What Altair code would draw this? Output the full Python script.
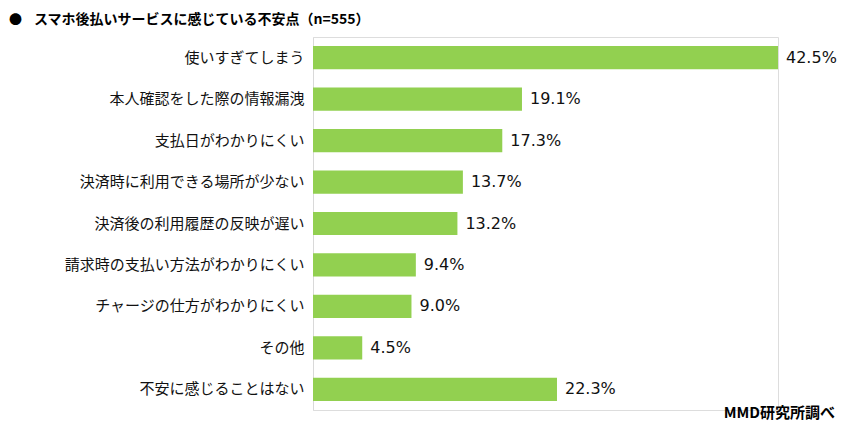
import altair as alt
import pandas as pd

categories = [
    "使いすぎてしまう",
    "本人確認をした際の情報漏洩",
    "支払日がわかりにくい",
    "決済時に利用できる場所が少ない",
    "決済後の利用履歴の反映が遅い",
    "請求時の支払い方法がわかりにくい",
    "チャージの仕方がわかりにくい",
    "その他",
    "不安に感じることはない",
]
values = [42.5, 19.1, 17.3, 13.7, 13.2, 9.4, 9.0, 4.5, 22.3]
title_text = "スマホ後払いサービスに感じている不安点（n=555）"
source_text = "MMD研究所調べ"

df = pd.DataFrame({"cat": categories, "val": values})
df["label"] = [f"{v:.1f}%" for v in values]

FONT = "Noto Sans CJK JP"
W, H = 465, 373

y = alt.Y("cat:N", sort=categories,
          scale=alt.Scale(paddingInner=0.44, paddingOuter=0.22),
          axis=alt.Axis(title=None, labelFont=FONT, labelFontSize=15, labelColor="#111111",
                        labelPadding=9, ticks=False, domainColor="#d9d9d9", grid=False,
                        labelLimit=300))
x = alt.X("val:Q", scale=alt.Scale(domain=[0, 42.5], nice=False),
          axis=None)

bars = alt.Chart(df).mark_bar(color="#92d050").encode(x=x, y=y)
labels = alt.Chart(df).mark_text(align="left", baseline="middle", dx=8, font="DejaVu Sans",
                                 fontSize=16, color="#111111").encode(x=x, y=y, text="label:N")

bullet = alt.Chart(pd.DataFrame({"t": ["●"]})).mark_text(
    align="left", baseline="middle", font=FONT, fontSize=13, color="#000"
).encode(x=alt.value(-304), y=alt.value(-17), text="t:N")
title = alt.Chart(pd.DataFrame({"t": [title_text]})).mark_text(
    align="left", baseline="middle", font=FONT, fontSize=14, fontWeight="bold", color="#000"
).encode(x=alt.value(-279), y=alt.value(-17), text="t:N")
source = alt.Chart(pd.DataFrame({"t": [source_text]})).mark_text(
    align="right", baseline="alphabetic", font=FONT, fontSize=15, fontWeight="bold", color="#000"
).encode(x=alt.value(522), y=alt.value(381), text="t:N")

chart = alt.layer(bars, labels, bullet, title, source).properties(
    width=W, height=H,
    autosize=alt.AutoSizeParams(type="none"),
    padding={"left": 305, "top": 29, "right": 60, "bottom": 20},
).configure_view(stroke=None).configure(background="white")

chart.save("out.html", embed_options={"renderer": "svg", "actions": False})
